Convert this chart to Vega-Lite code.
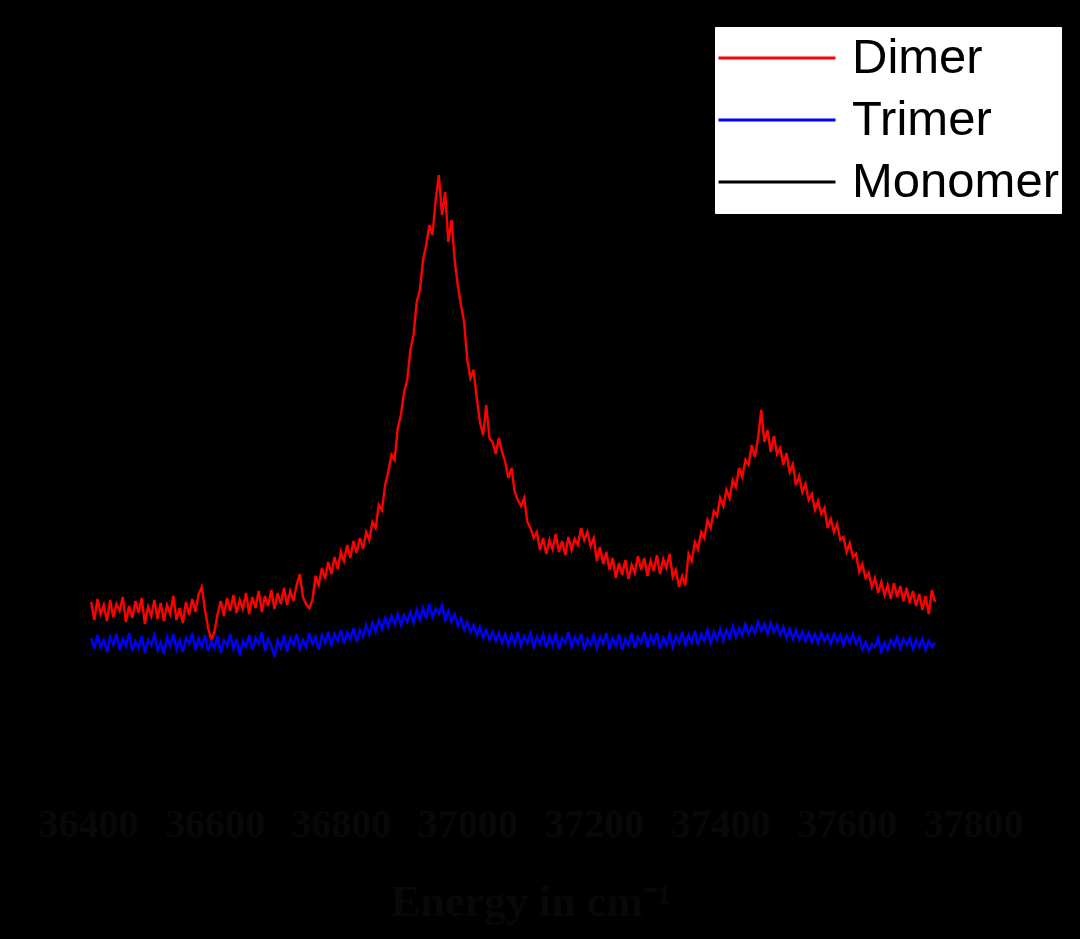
{
  "$schema": "https://vega.github.io/schema/vega-lite/v6.json",
  "width": 885,
  "height": 770,
  "autosize": {"type": "none"},
  "padding": {"left": 88, "top": 20, "right": 107, "bottom": 149},
  "background": "#000000",
  "config": {
    "view": {"stroke": null},
    "legend": {
      "orient": "none",
      "legendX": 627,
      "legendY": 7,
      "fillColor": "#ffffff",
      "strokeColor": "#ffffff",
      "padding": 2,
      "symbolType": "stroke",
      "symbolSize": 13689,
      "symbolStrokeWidth": 3,
      "labelFont": "Liberation Sans",
      "labelFontSize": 49,
      "labelColor": "#000000",
      "labelOffset": 15,
      "labelLimit": 400,
      "clipHeight": 58,
      "rowPadding": 4
    }
  },
  "data": {
    "values": [
      {"E":36405,"Dimer":188,"Trimer":152},{"E":36410,"Dimer":170,"Trimer":141},{"E":36415,"Dimer":191,"Trimer":155},{"E":36420,"Dimer":176,"Trimer":143},
      {"E":36425,"Dimer":185,"Trimer":150},{"E":36430,"Dimer":169,"Trimer":138},{"E":36435,"Dimer":190,"Trimer":153},{"E":36440,"Dimer":173,"Trimer":145},
      {"E":36445,"Dimer":186,"Trimer":156},{"E":36450,"Dimer":179,"Trimer":140},{"E":36455,"Dimer":193,"Trimer":151},{"E":36460,"Dimer":168,"Trimer":144},
      {"E":36465,"Dimer":184,"Trimer":157},{"E":36470,"Dimer":172,"Trimer":139},{"E":36475,"Dimer":189,"Trimer":149},{"E":36480,"Dimer":177,"Trimer":142},
      {"E":36485,"Dimer":192,"Trimer":154},{"E":36490,"Dimer":166,"Trimer":137},{"E":36495,"Dimer":183,"Trimer":150},{"E":36500,"Dimer":174,"Trimer":145},
      {"E":36505,"Dimer":190,"Trimer":155},{"E":36510,"Dimer":171,"Trimer":140},{"E":36515,"Dimer":187,"Trimer":148},{"E":36520,"Dimer":169,"Trimer":136},
      {"E":36525,"Dimer":185,"Trimer":153},{"E":36530,"Dimer":176,"Trimer":144},{"E":36535,"Dimer":194,"Trimer":156},{"E":36540,"Dimer":170,"Trimer":141},
      {"E":36545,"Dimer":182,"Trimer":150},{"E":36550,"Dimer":167,"Trimer":138},{"E":36555,"Dimer":188,"Trimer":152},{"E":36560,"Dimer":175,"Trimer":146},
      {"E":36565,"Dimer":191,"Trimer":157},{"E":36570,"Dimer":178,"Trimer":140},{"E":36575,"Dimer":196,"Trimer":151},{"E":36580,"Dimer":203,"Trimer":143},
      {"E":36585,"Dimer":180,"Trimer":155},{"E":36590,"Dimer":162,"Trimer":139},{"E":36595,"Dimer":150,"Trimer":149},{"E":36600,"Dimer":158,"Trimer":142},
      {"E":36605,"Dimer":176,"Trimer":154},{"E":36610,"Dimer":189,"Trimer":137},{"E":36615,"Dimer":174,"Trimer":150},{"E":36620,"Dimer":192,"Trimer":144},
      {"E":36625,"Dimer":179,"Trimer":156},{"E":36630,"Dimer":195,"Trimer":141},{"E":36635,"Dimer":177,"Trimer":151},{"E":36640,"Dimer":190,"Trimer":135},
      {"E":36645,"Dimer":181,"Trimer":149},{"E":36650,"Dimer":197,"Trimer":143},{"E":36655,"Dimer":176,"Trimer":155},{"E":36660,"Dimer":193,"Trimer":140},
      {"E":36665,"Dimer":182,"Trimer":152},{"E":36670,"Dimer":199,"Trimer":146},{"E":36675,"Dimer":178,"Trimer":158},{"E":36680,"Dimer":194,"Trimer":139},
      {"E":36685,"Dimer":184,"Trimer":151},{"E":36690,"Dimer":200,"Trimer":144},{"E":36695,"Dimer":181,"Trimer":133},{"E":36700,"Dimer":197,"Trimer":150},
      {"E":36705,"Dimer":186,"Trimer":142},{"E":36710,"Dimer":202,"Trimer":155},{"E":36715,"Dimer":185,"Trimer":138},{"E":36720,"Dimer":199,"Trimer":152},
      {"E":36725,"Dimer":189,"Trimer":145},{"E":36730,"Dimer":205,"Trimer":156},{"E":36735,"Dimer":216,"Trimer":141},{"E":36740,"Dimer":193,"Trimer":150},
      {"E":36745,"Dimer":186,"Trimer":143},{"E":36750,"Dimer":182,"Trimer":157},{"E":36755,"Dimer":190,"Trimer":146},{"E":36760,"Dimer":214,"Trimer":153},
      {"E":36765,"Dimer":205,"Trimer":140},{"E":36770,"Dimer":222,"Trimer":155},{"E":36775,"Dimer":211,"Trimer":147},{"E":36780,"Dimer":228,"Trimer":158},
      {"E":36785,"Dimer":216,"Trimer":144},{"E":36790,"Dimer":233,"Trimer":156},{"E":36795,"Dimer":221,"Trimer":149},{"E":36800,"Dimer":238,"Trimer":160},
      {"E":36805,"Dimer":229,"Trimer":146},{"E":36810,"Dimer":245,"Trimer":158},{"E":36815,"Dimer":232,"Trimer":151},{"E":36820,"Dimer":249,"Trimer":162},
      {"E":36825,"Dimer":237,"Trimer":148},{"E":36830,"Dimer":252,"Trimer":160},{"E":36835,"Dimer":241,"Trimer":153},{"E":36840,"Dimer":258,"Trimer":165},
      {"E":36845,"Dimer":250,"Trimer":155},{"E":36850,"Dimer":268,"Trimer":167},{"E":36855,"Dimer":262,"Trimer":158},{"E":36860,"Dimer":285,"Trimer":170},
      {"E":36865,"Dimer":280,"Trimer":161},{"E":36870,"Dimer":305,"Trimer":172},{"E":36875,"Dimer":318,"Trimer":163},{"E":36880,"Dimer":335,"Trimer":174},
      {"E":36885,"Dimer":330,"Trimer":166},{"E":36890,"Dimer":362,"Trimer":176},{"E":36895,"Dimer":375,"Trimer":165},{"E":36900,"Dimer":398,"Trimer":175},
      {"E":36905,"Dimer":410,"Trimer":168},{"E":36910,"Dimer":440,"Trimer":178},{"E":36915,"Dimer":455,"Trimer":167},{"E":36920,"Dimer":488,"Trimer":180},
      {"E":36925,"Dimer":500,"Trimer":170},{"E":36930,"Dimer":530,"Trimer":182},{"E":36935,"Dimer":545,"Trimer":171},{"E":36940,"Dimer":565,"Trimer":186},
      {"E":36945,"Dimer":555,"Trimer":173},{"E":36950,"Dimer":590,"Trimer":181},{"E":36955,"Dimer":615,"Trimer":176},{"E":36960,"Dimer":575,"Trimer":185},
      {"E":36965,"Dimer":598,"Trimer":170},{"E":36970,"Dimer":548,"Trimer":179},{"E":36975,"Dimer":570,"Trimer":168},{"E":36980,"Dimer":530,"Trimer":176},
      {"E":36985,"Dimer":505,"Trimer":164},{"E":36990,"Dimer":485,"Trimer":172},{"E":36995,"Dimer":468,"Trimer":160},{"E":37000,"Dimer":430,"Trimer":168},
      {"E":37005,"Dimer":412,"Trimer":158},{"E":37010,"Dimer":420,"Trimer":165},{"E":37015,"Dimer":392,"Trimer":155},{"E":37020,"Dimer":368,"Trimer":163},
      {"E":37025,"Dimer":355,"Trimer":152},{"E":37030,"Dimer":385,"Trimer":160},{"E":37035,"Dimer":352,"Trimer":150},{"E":37040,"Dimer":348,"Trimer":158},
      {"E":37045,"Dimer":336,"Trimer":149},{"E":37050,"Dimer":352,"Trimer":157},{"E":37055,"Dimer":338,"Trimer":147},{"E":37060,"Dimer":328,"Trimer":156},
      {"E":37065,"Dimer":312,"Trimer":145},{"E":37070,"Dimer":322,"Trimer":155},{"E":37075,"Dimer":298,"Trimer":146},{"E":37080,"Dimer":290,"Trimer":158},
      {"E":37085,"Dimer":284,"Trimer":144},{"E":37090,"Dimer":292,"Trimer":154},{"E":37095,"Dimer":268,"Trimer":147},{"E":37100,"Dimer":262,"Trimer":157},
      {"E":37105,"Dimer":252,"Trimer":143},{"E":37110,"Dimer":258,"Trimer":153},{"E":37115,"Dimer":240,"Trimer":146},{"E":37120,"Dimer":252,"Trimer":156},
      {"E":37125,"Dimer":236,"Trimer":142},{"E":37130,"Dimer":250,"Trimer":154},{"E":37135,"Dimer":241,"Trimer":145},{"E":37140,"Dimer":256,"Trimer":157},
      {"E":37145,"Dimer":238,"Trimer":141},{"E":37150,"Dimer":249,"Trimer":152},{"E":37155,"Dimer":235,"Trimer":147},{"E":37160,"Dimer":253,"Trimer":158},
      {"E":37165,"Dimer":240,"Trimer":143},{"E":37170,"Dimer":251,"Trimer":153},{"E":37175,"Dimer":245,"Trimer":146},{"E":37180,"Dimer":262,"Trimer":156},
      {"E":37185,"Dimer":250,"Trimer":140},{"E":37190,"Dimer":258,"Trimer":151},{"E":37195,"Dimer":244,"Trimer":145},{"E":37200,"Dimer":252,"Trimer":155},
      {"E":37205,"Dimer":229,"Trimer":142},{"E":37210,"Dimer":243,"Trimer":153},{"E":37215,"Dimer":226,"Trimer":146},{"E":37220,"Dimer":238,"Trimer":157},
      {"E":37225,"Dimer":220,"Trimer":141},{"E":37230,"Dimer":232,"Trimer":152},{"E":37235,"Dimer":212,"Trimer":144},{"E":37240,"Dimer":227,"Trimer":156},
      {"E":37245,"Dimer":215,"Trimer":140},{"E":37250,"Dimer":230,"Trimer":151},{"E":37255,"Dimer":211,"Trimer":145},{"E":37260,"Dimer":225,"Trimer":157},
      {"E":37265,"Dimer":217,"Trimer":142},{"E":37270,"Dimer":234,"Trimer":153},{"E":37275,"Dimer":220,"Trimer":147},{"E":37280,"Dimer":232,"Trimer":158},
      {"E":37285,"Dimer":214,"Trimer":143},{"E":37290,"Dimer":229,"Trimer":154},{"E":37295,"Dimer":219,"Trimer":146},{"E":37300,"Dimer":235,"Trimer":157},
      {"E":37305,"Dimer":216,"Trimer":141},{"E":37310,"Dimer":231,"Trimer":152},{"E":37315,"Dimer":222,"Trimer":145},{"E":37320,"Dimer":236,"Trimer":156},
      {"E":37325,"Dimer":213,"Trimer":143},{"E":37330,"Dimer":220,"Trimer":154},{"E":37335,"Dimer":203,"Trimer":147},{"E":37340,"Dimer":214,"Trimer":158},
      {"E":37345,"Dimer":205,"Trimer":144},{"E":37350,"Dimer":236,"Trimer":155},{"E":37355,"Dimer":229,"Trimer":147},{"E":37360,"Dimer":248,"Trimer":159},
      {"E":37365,"Dimer":241,"Trimer":145},{"E":37370,"Dimer":258,"Trimer":156},{"E":37375,"Dimer":252,"Trimer":149},{"E":37380,"Dimer":270,"Trimer":160},
      {"E":37385,"Dimer":262,"Trimer":147},{"E":37390,"Dimer":279,"Trimer":158},{"E":37395,"Dimer":274,"Trimer":150},{"E":37400,"Dimer":292,"Trimer":161},
      {"E":37405,"Dimer":284,"Trimer":149},{"E":37410,"Dimer":300,"Trimer":160},{"E":37415,"Dimer":292,"Trimer":152},{"E":37420,"Dimer":310,"Trimer":164},
      {"E":37425,"Dimer":303,"Trimer":153},{"E":37430,"Dimer":322,"Trimer":162},{"E":37435,"Dimer":313,"Trimer":155},{"E":37440,"Dimer":330,"Trimer":166},
      {"E":37445,"Dimer":325,"Trimer":156},{"E":37450,"Dimer":345,"Trimer":164},{"E":37455,"Dimer":333,"Trimer":157},{"E":37460,"Dimer":352,"Trimer":168},
      {"E":37465,"Dimer":380,"Trimer":159},{"E":37470,"Dimer":348,"Trimer":166},{"E":37475,"Dimer":360,"Trimer":156},{"E":37480,"Dimer":338,"Trimer":167},
      {"E":37485,"Dimer":354,"Trimer":158},{"E":37490,"Dimer":336,"Trimer":165},{"E":37495,"Dimer":342,"Trimer":155},{"E":37500,"Dimer":325,"Trimer":163},
      {"E":37505,"Dimer":337,"Trimer":152},{"E":37510,"Dimer":318,"Trimer":161},{"E":37515,"Dimer":326,"Trimer":151},{"E":37520,"Dimer":305,"Trimer":160},
      {"E":37525,"Dimer":314,"Trimer":150},{"E":37530,"Dimer":298,"Trimer":158},{"E":37535,"Dimer":306,"Trimer":149},{"E":37540,"Dimer":290,"Trimer":157},
      {"E":37545,"Dimer":296,"Trimer":148},{"E":37550,"Dimer":280,"Trimer":156},{"E":37555,"Dimer":289,"Trimer":147},{"E":37560,"Dimer":276,"Trimer":157},
      {"E":37565,"Dimer":282,"Trimer":149},{"E":37570,"Dimer":262,"Trimer":155},{"E":37575,"Dimer":271,"Trimer":146},{"E":37580,"Dimer":258,"Trimer":156},
      {"E":37585,"Dimer":266,"Trimer":148},{"E":37590,"Dimer":250,"Trimer":155},{"E":37595,"Dimer":253,"Trimer":145},{"E":37600,"Dimer":238,"Trimer":154},
      {"E":37605,"Dimer":247,"Trimer":147},{"E":37610,"Dimer":233,"Trimer":156},{"E":37615,"Dimer":236,"Trimer":146},{"E":37620,"Dimer":218,"Trimer":153},
      {"E":37625,"Dimer":226,"Trimer":141},{"E":37630,"Dimer":212,"Trimer":148},{"E":37635,"Dimer":217,"Trimer":139},{"E":37640,"Dimer":203,"Trimer":146},
      {"E":37645,"Dimer":212,"Trimer":143},{"E":37650,"Dimer":197,"Trimer":152},{"E":37655,"Dimer":208,"Trimer":138},{"E":37660,"Dimer":195,"Trimer":147},
      {"E":37665,"Dimer":205,"Trimer":140},{"E":37670,"Dimer":191,"Trimer":150},{"E":37675,"Dimer":207,"Trimer":144},{"E":37680,"Dimer":193,"Trimer":153},
      {"E":37685,"Dimer":204,"Trimer":142},{"E":37690,"Dimer":189,"Trimer":151},{"E":37695,"Dimer":202,"Trimer":145},{"E":37700,"Dimer":187,"Trimer":152},
      {"E":37705,"Dimer":199,"Trimer":141},{"E":37710,"Dimer":184,"Trimer":150},{"E":37715,"Dimer":196,"Trimer":143},{"E":37720,"Dimer":180,"Trimer":151},
      {"E":37725,"Dimer":194,"Trimer":140},{"E":37730,"Dimer":176,"Trimer":149},{"E":37735,"Dimer":200,"Trimer":143},{"E":37740,"Dimer":188,"Trimer":147}
    ]
  },
  "transform": [
    {"fold": ["Dimer", "Trimer"], "as": ["Species", "Intensity"]}
  ],
  "mark": {"type": "line", "strokeWidth": 2.4, "strokeJoin": "miter"},
  "encoding": {
    "x": {
      "field": "E",
      "type": "quantitative",
      "scale": {"domain": [36400, 37800], "nice": false, "zero": false},
      "axis": {
        "title": "Energy in cm⁻¹",
        "values": [36400, 36600, 36800, 37000, 37200, 37400, 37600, 37800],
        "format": "d",
        "grid": false,
        "domainColor": "#000000",
        "tickColor": "#000000",
        "ticks": false,
        "labelFont": "Liberation Serif",
        "labelFontSize": 40,
        "labelFontWeight": "bold",
        "labelColor": "#080808",
        "labelPadding": 14,
        "labelFlush": false,
        "labelOverlap": false,
        "labelBound": false,
        "titleFont": "Liberation Serif",
        "titleFontSize": 44,
        "titleFontWeight": "bold",
        "titleColor": "#080808",
        "titlePadding": 36
      }
    },
    "y": {
      "field": "Intensity",
      "type": "quantitative",
      "scale": {"domain": [0, 770], "nice": false},
      "axis": null
    },
    "color": {
      "field": "Species",
      "type": "nominal",
      "scale": {
        "domain": ["Dimer", "Trimer", "Monomer"],
        "range": ["#ff0000", "#0000ff", "#000000"]
      },
      "legend": {"title": null}
    }
  }
}
